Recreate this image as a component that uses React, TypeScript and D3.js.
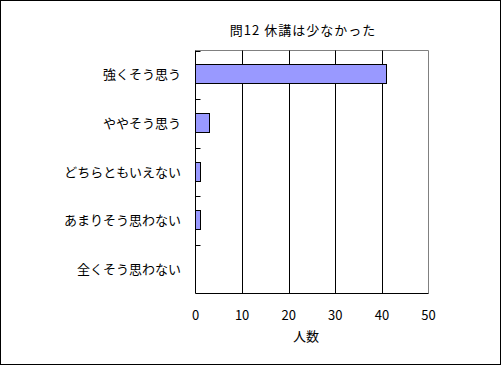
import React from "react";
import * as d3 from "d3";

const title = "問12 休講は少なかった";
const categories = ["強くそう思う", "ややそう思う", "どちらともいえない", "あまりそう思わない", "全くそう思わない"];
const counts = [41, 3, 1, 1, 0];
const xTicks = [0, 10, 20, 30, 40, 50];
const xTitle = "人数";

const W = 503;
const H = 367;
const plot = { left: 195.5, right: 428.5, top: 50.5, bottom: 293.5 };
const font = "'MS PGothic', 'Noto Sans CJK JP', sans-serif";

const App = () => {
  const x = d3.scaleLinear().domain([0, 50]).range([plot.left, plot.right]);
  const y = d3.scaleBand<string>().domain(categories).range([plot.top, plot.bottom]).padding(0);
  const inner = d3.scaleBand<number>().domain([0]).range([0, y.bandwidth()]).padding(0.44);

  // category boundaries (Excel style ticks inside the axis)
  const bounds = categories.map((c) => y(c) as number);

  return (
    <svg
      width={W}
      height={H}
      style={{ position: "absolute", left: 0, top: 0, background: "#fff" }}
      fontFamily={font}
    >
      <rect x={0.5} y={0.5} width={500} height={364} fill="#fff" stroke="#000" />

      <text x={303} y={35} textAnchor="middle" fontSize={13} letterSpacing={1} fill="#000">
        {title}
      </text>

      {/* plot frame: top and right in grey */}
      <line x1={plot.left} x2={plot.right} y1={plot.top} y2={plot.top} stroke="#808080" />
      <line x1={plot.right} x2={plot.right} y1={plot.top} y2={plot.bottom} stroke="#808080" />

      {/* vertical gridlines */}
      {xTicks.slice(1, -1).map((t) => (
        <line key={t} x1={Math.round(x(t)) + 0.5} x2={Math.round(x(t)) + 0.5} y1={plot.top} y2={plot.bottom} stroke="#000" />
      ))}

      {/* bars */}
      {categories.map((c, i) =>
        counts[i] > 0 ? (
          <rect
            key={c}
            x={plot.left}
            y={Math.round((y(c) as number) + (inner(0) as number) - 1) + 0.5}
            width={Math.round(x(counts[i]) - x(0))}
            height={Math.round(inner.bandwidth())}
            fill="#9999ff"
            stroke="#000"
          />
        ) : null
      )}

      {/* axes */}
      <line x1={plot.left} x2={plot.left} y1={plot.top} y2={plot.bottom} stroke="#000" />
      <line x1={plot.left} x2={plot.right} y1={plot.bottom} y2={plot.bottom} stroke="#000" />
      {bounds.map((b, i) => (
        <line key={i} x1={plot.left} x2={plot.left + 5} y1={Math.round(b) + 0.5} y2={Math.round(b) + 0.5} stroke="#000" />
      ))}

      {/* category labels */}
      {categories.map((c) => (
        <text
          key={c}
          x={181}
          y={(y(c) as number) + y.bandwidth() / 2}
          dy="0.35em"
          textAnchor="end"
          fontSize={13}
          fill="#000"
        >
          {c}
        </text>
      ))}

      {/* x tick labels */}
      {xTicks.map((t) => (
        <text key={t} x={x(t)} y={320} textAnchor="middle" fontSize={13} fill="#000">
          {t}
        </text>
      ))}

      <text x={306} y={341} textAnchor="middle" fontSize={13} fill="#000">
        {xTitle}
      </text>
    </svg>
  );
};

export default App;
